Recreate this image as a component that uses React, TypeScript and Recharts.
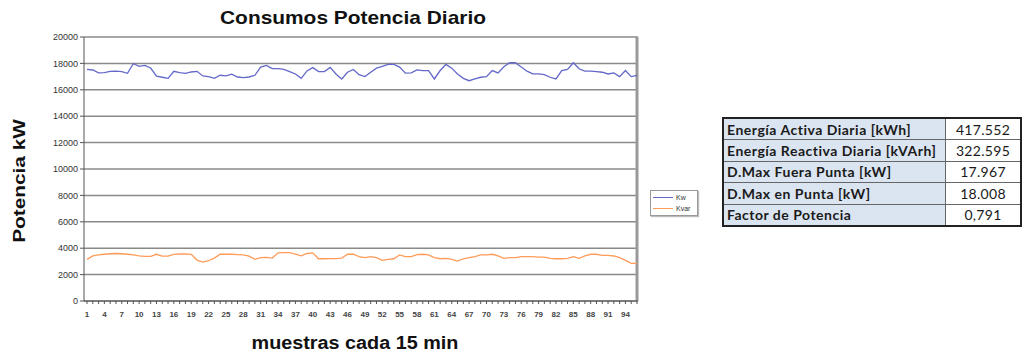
import { CartesianGrid, Line, LineChart, ReferenceLine, XAxis, YAxis } from "recharts";

const samples = Array.from({ length: 96 }, (_, i) => i + 1);

const kw = [
  17540, 17500, 17280, 17300, 17400, 17420, 17380, 17250, 17990, 17780, 17850, 17650,
  17030, 16950, 16870, 17400, 17300, 17250, 17350, 17400, 17050, 17000, 16870, 17100,
  17050, 17180, 16970, 16920, 16970, 17100, 17720, 17850, 17600, 17600, 17540, 17380,
  17200, 16870, 17430, 17680, 17380, 17380, 17700, 17200, 16820, 17330, 17540, 17150,
  17000, 17330, 17640, 17770, 17920, 17920, 17720, 17260, 17280, 17510, 17460, 17460,
  16820, 17460, 17920, 17640, 17200, 16870, 16690, 16820, 16950, 17000, 17460, 17280,
  17750, 18050, 18050, 17720, 17410, 17200, 17200, 17150, 16950, 16820, 17460, 17540,
  18050, 17590, 17410, 17410, 17380, 17330, 17200, 17280, 17000, 17460, 17000, 17100,
];

const kvar = [
  3150, 3410, 3500, 3540, 3580, 3600, 3580, 3540, 3500, 3420, 3380, 3380,
  3540, 3400, 3400, 3540, 3560, 3560, 3540, 3100, 2950, 3050, 3250, 3540,
  3540, 3540, 3520, 3500, 3400, 3150, 3280, 3300, 3250, 3650, 3670, 3670,
  3560, 3420, 3600, 3650, 3200, 3200, 3210, 3210, 3250, 3540, 3540, 3360,
  3280, 3360, 3280, 3080, 3150, 3200, 3490, 3360, 3360, 3510, 3540, 3490,
  3280, 3200, 3230, 3150, 3030, 3200, 3280, 3360, 3490, 3490, 3540, 3410,
  3230, 3280, 3280, 3360, 3360, 3360, 3330, 3330, 3230, 3200, 3200, 3230,
  3360, 3230, 3410, 3540, 3540, 3460, 3460, 3410, 3280, 3080, 2850, 2850,
];

const yTicks = [0, 2000, 4000, 6000, 8000, 10000, 12000, 14000, 16000, 18000, 20000];

const seriesNames = ["Kw", "Kvar"];
const seriesColors = ["#6468c8", "#ff9c5a"];

const tableLabels = [
  "Energía Activa Diaria [kWh]",
  "Energía Reactiva Diaria [kVArh]",
  "D.Max Fuera Punta [kW]",
  "D.Max en Punta [kW]",
  "Factor de Potencia",
];
const tableValues = ["417.552", "322.595", "17.967", "18.008", "0,791"];

const data = samples.map((s, i) => ({ sample: s, Kw: kw[i], Kvar: kvar[i] }));

export default function App() {
  return (
    <div style={{ position: "absolute", left: 0, top: 0, width: 1025, height: 354, background: "#fff", fontFamily: "'Liberation Sans', Arial, sans-serif" }}>
      <div style={{ position: "absolute", left: 153, top: 7, width: 400, textAlign: "center", fontSize: 19, fontWeight: "bold", lineHeight: "22px", color: "#111", transform: "scaleX(1.1)" }}>
        Consumos Potencia Diario
      </div>

      <LineChart width={700} height={354} data={data} margin={{ top: 37, right: 62, left: 40, bottom: 29 }} style={{ position: "absolute", left: 0, top: 0 }}>
        <CartesianGrid vertical={false} stroke="#8a8a8a" strokeWidth={1.5} />
        <XAxis
          dataKey="sample"
          type="number"
          domain={[1, 96]}
          ticks={samples}
          interval={0}
          padding={{ left: 3, right: 1 }}
          height={24}
          tickSize={3}
          tick={{ fontSize: 8, fill: "#444", fontWeight: "bold", dy: 5 }}
          tickFormatter={(v: number) => ((v - 1) % 3 === 0 && v <= 94 ? String(v) : "")}
          axisLine={{ stroke: "#555" }}
          tickLine={{ stroke: "#555" }}
        />
        <YAxis
          domain={[0, 20000]}
          ticks={yTicks}
          width={44}
          tickSize={4}
          tick={{ fontSize: 9, fill: "#333" }}
          axisLine={{ stroke: "#555" }}
          tickLine={{ stroke: "#555" }}
        />
        <ReferenceLine x={96} stroke="#9a9a9a" strokeWidth={3} />
        <Line type="linear" dataKey="Kw" stroke={seriesColors[0]} strokeWidth={1.3} dot={false} isAnimationActive={false} />
        <Line type="linear" dataKey="Kvar" stroke={seriesColors[1]} strokeWidth={1.3} dot={false} isAnimationActive={false} />
      </LineChart>

      <div style={{ position: "absolute", left: 20, top: 181, transform: "translate(-50%, -50%) rotate(-90deg) scale(1.3, 1)", whiteSpace: "nowrap", fontSize: 16, fontWeight: "bold", color: "#111" }}>
        Potencia kW
      </div>
      <div style={{ position: "absolute", left: 155, top: 332, width: 400, textAlign: "center", fontSize: 18, fontWeight: "bold", lineHeight: "22px", color: "#111", transform: "scaleX(1.1)" }}>
        muestras cada 15 min
      </div>

      <div style={{ position: "absolute", left: 650, top: 190, width: 46, height: 24, border: "1px solid #999", boxShadow: "1px 1px 1px #bbb", background: "#fff", fontSize: 7, color: "#333" }}>
        {seriesNames.map((name, i) => (
          <div key={name} style={{ display: "flex", alignItems: "center", height: 11, marginTop: i === 0 ? 1 : 0 }}>
            <div style={{ width: 20, height: 1.5, background: seriesColors[i], marginLeft: 2, marginRight: 3 }} />
            <span>{name}</span>
          </div>
        ))}
      </div>

      <table style={{ position: "absolute", left: 722, top: 117, width: 300, borderCollapse: "collapse", border: "2px solid #222", fontFamily: "Lato, sans-serif", fontSize: 14, color: "#1a1a1a" }}>
        <tbody>
          {tableLabels.map((label, i) => (
            <tr key={label} style={{ height: 21.5 }}>
              <td style={{ width: 218, background: "#dbe5f1", fontWeight: "bold", padding: "0 0 0 3px", border: "1px solid #666", whiteSpace: "nowrap", letterSpacing: 0.5, lineHeight: "19px" }}>{label}</td>
              <td style={{ textAlign: "center", padding: 0, border: "1px solid #666", letterSpacing: 0.3, lineHeight: "19px" }}>{tableValues[i]}</td>
            </tr>
          ))}
        </tbody>
      </table>
    </div>
  );
}
